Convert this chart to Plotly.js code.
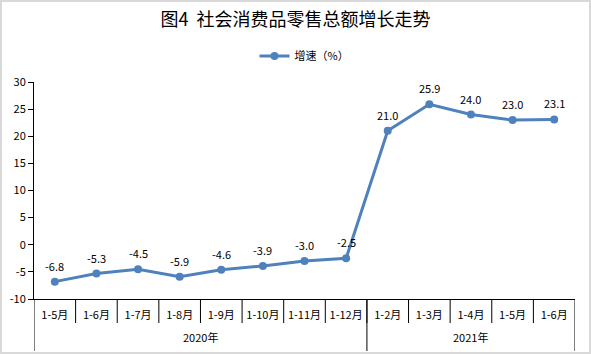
<!DOCTYPE html>
<html>
<head>
<meta charset="utf-8">
<script src="https://cdn.plot.ly/plotly-3.0.1.min.js"></script>
<style>html,body{margin:0;padding:0;background:#fff;}#chart{width:591px;height:354px;}</style>
</head>
<body>
<div id="chart"></div>
<script>
const years = ["2020年","2021年"];
const yearCounts = [8, 5];
const months = ["1-5月","1-6月","1-7月","1-8月","1-9月","1-10月","1-11月","1-12月","1-2月","1-3月","1-4月","1-5月","1-6月"];
const growth = [-6.8,-5.3,-4.5,-5.9,-4.6,-3.9,-3.0,-2.5,21.0,25.9,24.0,23.0,23.1];
const yTicks = [-10,-5,0,5,10,15,20,25,30];

const L = 34, R = 16, T = 82, B = 55, W = 591, H = 354;
const pw = W - L - R, ph = H - T - B;
const font = "'Noto Sans CJK SC', 'Microsoft YaHei', sans-serif";
const idx = months.map((m, i) => i);

const shapes = [{
  type: 'rect', xref: 'paper', yref: 'paper',
  x0: -(L - 1) / pw, x1: 1 + (R - 1) / pw, y0: -(B - 1) / ph, y1: 1 + (T - 1) / ph,
  line: {color: '#d9d9d9', width: 2}
}];
// month separators
for (let i = 0; i < months.length - 1; i++) {
  shapes.push({type: 'line', xref: 'x', yref: 'paper', x0: i + 0.5, x1: i + 0.5, y0: 0, y1: -24 / ph, line: {color: '#000', width: 1}});
}
// year dividers
const annotations = [];
let start = -0.5;
shapes.push({type: 'line', xref: 'x', yref: 'paper', x0: start, x1: start, y0: 0, y1: -52 / ph, line: {color: '#000', width: 1}});
years.forEach((yr, k) => {
  const end = start + yearCounts[k];
  shapes.push({type: 'line', xref: 'x', yref: 'paper', x0: end, x1: end, y0: 0, y1: -52 / ph, line: {color: '#000', width: 1}});
  annotations.push({x: (start + end) / 2, xref: 'x', y: -38 / ph, yref: 'paper', text: yr, showarrow: false, font: {size: 11, family: font, color: '#000'}, yanchor: 'middle'});
  start = end;
});
// value labels
growth.forEach((v, i) => {
  annotations.push({x: i, y: v, xref: 'x', yref: 'y', text: v.toFixed(1), showarrow: false, yshift: 16, yanchor: 'middle', font: {size: 11, family: font, color: '#000'}});
});

Plotly.newPlot('chart', [{
  type: 'scatter',
  mode: 'lines+markers',
  name: '增速（%）',
  x: idx,
  y: growth,
  line: {color: '#4F81BD', width: 3},
  marker: {color: '#4F81BD', size: 8},
  cliponaxis: false
}], {
  width: W, height: H,
  margin: {l: L, r: R, t: T, b: B, pad: 0},
  paper_bgcolor: '#fff', plot_bgcolor: '#fff',
  font: {family: font, size: 11, color: '#000'},
  title: {text: '图4  社会消费品零售总额增长走势', x: 0.5, xanchor: 'center', y: 1 - 20/H, yanchor: 'middle', font: {size: 18, color: '#000', family: font}},
  showlegend: true,
  legend: {orientation: 'h', x: 0.5, xanchor: 'center', y: 1 + 26/ph, yanchor: 'middle', font: {size: 11, family: font}},
  xaxis: {
    range: [-0.5, months.length - 0.5],
    tickvals: idx, ticktext: months, tickangle: 0,
    showline: true, linecolor: '#000', linewidth: 1,
    ticks: '', ticklabelstandoff: 6,
    showgrid: false, zeroline: false,
    tickfont: {size: 11, family: font}
  },
  yaxis: {
    range: [-10, 30], tickvals: yTicks, ticktext: yTicks.map(String),
    showline: true, linecolor: '#000', linewidth: 1,
    ticks: 'outside', ticklen: 5, tickcolor: '#000',
    showgrid: false, zeroline: false,
    tickfont: {size: 11, family: font}
  },
  shapes: shapes,
  annotations: annotations
}, {displayModeBar: false, staticPlot: true});
</script>
</body>
</html>
